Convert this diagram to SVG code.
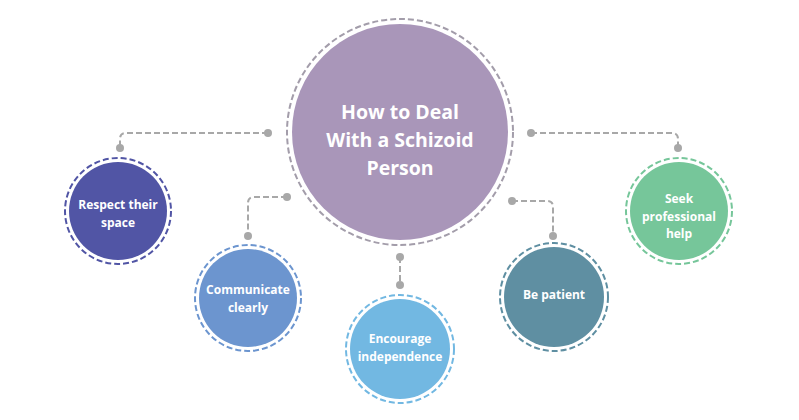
<svg xmlns="http://www.w3.org/2000/svg" width="799" height="420" viewBox="0 0 799 420">
<style>
.ring{fill:none;stroke-width:2;stroke-dasharray:6 3}
.conn{fill:none;stroke:#A8A8A8;stroke-width:2;stroke-dasharray:6 3}
.dot{fill:#A8A8A8}
.t{font-family:"Open Sans","Noto Sans","Liberation Sans",sans-serif;font-weight:bold;fill:#fff;text-anchor:middle}
.big{font-size:19.5px}
.sm{font-size:12px}
</style>
<rect width="799" height="420" fill="#fff"/>
<g id="connectors">
<path class="conn" d="M268,133 H126 Q120,133 120,139 V148"/>
<path class="conn" d="M287,197 H254 Q248,197 248,203 V236"/>
<path class="conn" d="M400,257 V285"/>
<path class="conn" d="M512,201 H547 Q553,201 553,207 V236"/>
<path class="conn" d="M531,133 H672 Q678,133 678,139 V148"/>
<circle class="dot" cx="268" cy="133" r="4"/>
<circle class="dot" cx="120" cy="148" r="4"/>
<circle class="dot" cx="287" cy="197" r="4"/>
<circle class="dot" cx="248" cy="236" r="4"/>
<circle class="dot" cx="400" cy="257" r="4"/>
<circle class="dot" cx="400" cy="285" r="4"/>
<circle class="dot" cx="512" cy="201" r="4"/>
<circle class="dot" cx="553" cy="236" r="4"/>
<circle class="dot" cx="531" cy="133" r="4"/>
<circle class="dot" cx="678" cy="148" r="4"/>
</g>
<g id="center">
<circle cx="400" cy="132" r="108" fill="#A996B9"/>
<circle class="ring" cx="400" cy="132" r="113" stroke="#A39DAA"/>
<text class="t big" x="400" y="119">How to Deal</text>
<text class="t big" x="400" y="147">With a Schizoid</text>
<text class="t big" x="400" y="175">Person</text>
</g>
<g id="respect">
<circle cx="118" cy="211" r="49" fill="#5155A5"/>
<circle class="ring" cx="118" cy="211" r="53" stroke="#5155A5"/>
<text class="t sm" x="118" y="209">Respect their</text>
<text class="t sm" x="118" y="227">space</text>
</g>
<g id="communicate">
<circle cx="248" cy="298" r="49" fill="#6C95CF"/>
<circle class="ring" cx="248" cy="298" r="53" stroke="#6C95CF"/>
<text class="t sm" x="248" y="294">Communicate</text>
<text class="t sm" x="248" y="312">clearly</text>
</g>
<g id="encourage">
<circle cx="400" cy="349" r="50" fill="#72B8E2"/>
<circle class="ring" cx="400" cy="349" r="54" stroke="#72B8E2"/>
<text class="t sm" x="400" y="343">Encourage</text>
<text class="t sm" x="400" y="361">independence</text>
</g>
<g id="patient">
<circle cx="554" cy="297" r="50" fill="#5F8FA2"/>
<circle class="ring" cx="554" cy="297" r="54" stroke="#5F8FA2"/>
<text class="t sm" x="554" y="299">Be patient</text>
</g>
<g id="seek">
<circle cx="679" cy="211" r="49" fill="#76C69A"/>
<circle class="ring" cx="679" cy="211" r="53" stroke="#76C69A"/>
<text class="t sm" x="679" y="203">Seek</text>
<text class="t sm" x="679" y="221">professional</text>
<text class="t sm" x="679" y="238">help</text>
</g>
</svg>
